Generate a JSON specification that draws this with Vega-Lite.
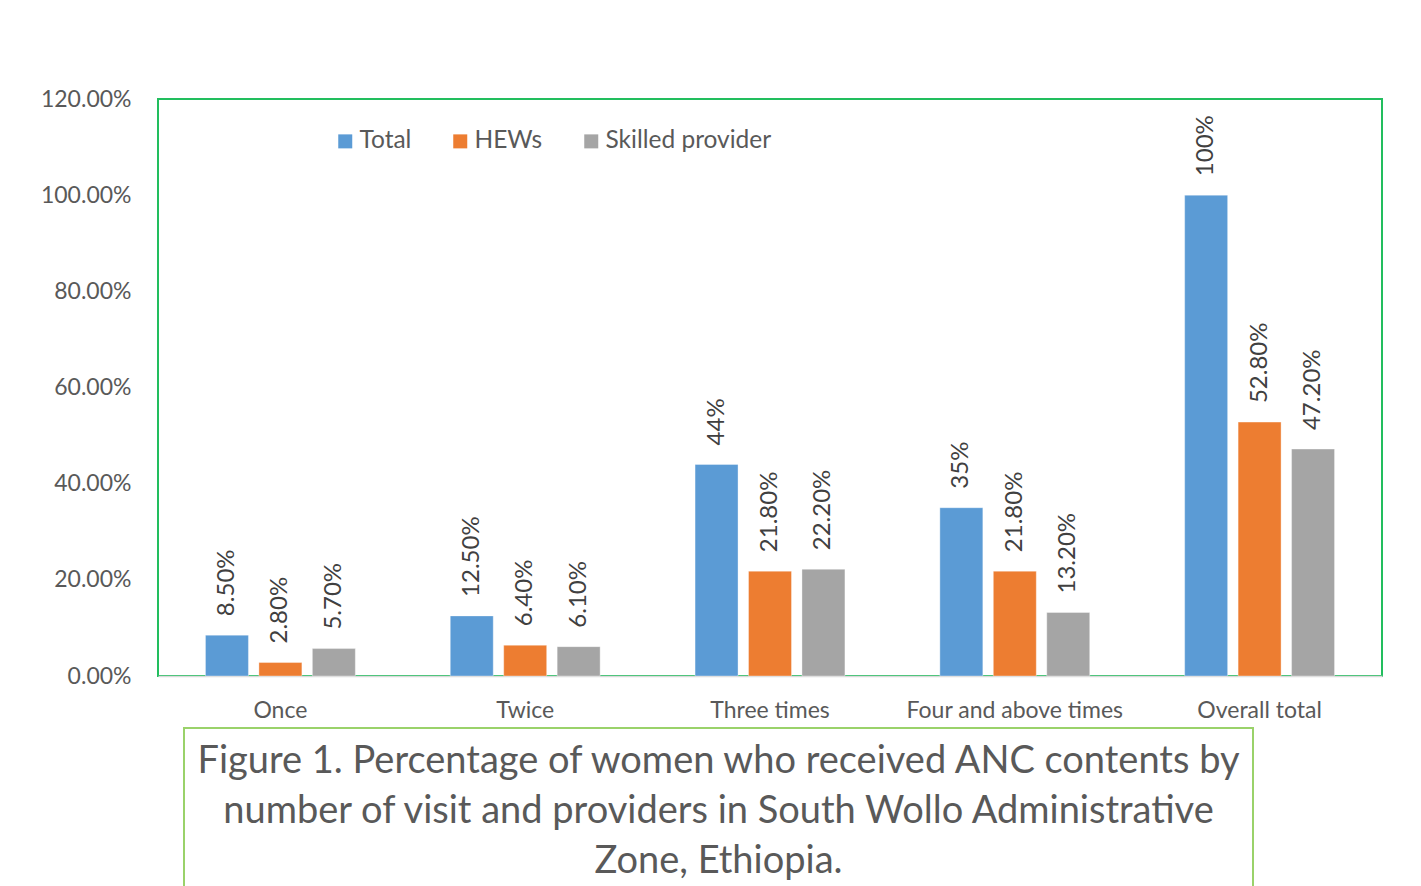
{
  "$schema": "https://vega.github.io/schema/vega-lite/v6.json",
  "background": "white",
  "padding": {"left": 38, "top": 87, "right": 0, "bottom": 0},
  "spacing": 4,
  "config": {
    "font": "Lato",
    "view": {"stroke": null},
    "axis": {"labelFont": "Lato", "labelColor": "#595959", "titleFont": "Lato"},
    "legend": {"labelFont": "Lato"}
  },
  "vconcat": [
    {
      "width": 1224,
      "height": 577,
      "view": {"stroke": "#22BE5E", "strokeWidth": 2},
      "data": {
        "values": [
          {"visit": "Once", "provider": "Total", "value": 0.085, "label": "8.50%"},
          {"visit": "Once", "provider": "HEWs", "value": 0.028, "label": "2.80%"},
          {"visit": "Once", "provider": "Skilled provider", "value": 0.057, "label": "5.70%"},
          {"visit": "Twice", "provider": "Total", "value": 0.125, "label": "12.50%"},
          {"visit": "Twice", "provider": "HEWs", "value": 0.064, "label": "6.40%"},
          {"visit": "Twice", "provider": "Skilled provider", "value": 0.061, "label": "6.10%"},
          {"visit": "Three times", "provider": "Total", "value": 0.44, "label": "44%"},
          {"visit": "Three times", "provider": "HEWs", "value": 0.218, "label": "21.80%"},
          {"visit": "Three times", "provider": "Skilled provider", "value": 0.222, "label": "22.20%"},
          {"visit": "Four and above times", "provider": "Total", "value": 0.35, "label": "35%"},
          {"visit": "Four and above times", "provider": "HEWs", "value": 0.218, "label": "21.80%"},
          {"visit": "Four and above times", "provider": "Skilled provider", "value": 0.132, "label": "13.20%"},
          {"visit": "Overall total", "provider": "Total", "value": 1.0, "label": "100%"},
          {"visit": "Overall total", "provider": "HEWs", "value": 0.528, "label": "52.80%"},
          {"visit": "Overall total", "provider": "Skilled provider", "value": 0.472, "label": "47.20%"}
        ]
      },
      "encoding": {
        "x": {
          "field": "visit", "type": "nominal", "sort": null,
          "scale": {"paddingInner": 0, "paddingOuter": 0},
          "axis": {
            "title": null, "labelAngle": 0, "ticks": false, "labelPadding": 23,
            "labelFontSize": 23, "labelLimit": 0, "domainColor": "#D9D9D9", "domainWidth": 1.5,
            "minExtent": 45, "maxExtent": 45
          }
        },
        "xOffset": {
          "field": "provider", "type": "nominal",
          "sort": ["Total", "HEWs", "Skilled provider"],
          "scale": {"paddingInner": 0.196, "paddingOuter": 0.888}
        },
        "y": {
          "field": "value", "type": "quantitative",
          "scale": {"domain": [0, 1.2]},
          "axis": {
            "title": null, "format": ".2%", "values": [0, 0.2, 0.4, 0.6, 0.8, 1.0, 1.2],
            "grid": false, "domain": false, "ticks": false, "labelPadding": 27,
            "labelFontSize": 23, "minExtent": 119, "maxExtent": 119
          }
        }
      },
      "layer": [
        {
          "mark": {"type": "bar", "stroke": "#FFFFFF", "strokeWidth": 0.6, "strokeOpacity": 0.6},
          "encoding": {
            "color": {
              "field": "provider", "type": "nominal",
              "sort": ["Total", "HEWs", "Skilled provider"],
              "scale": {"domain": ["Total", "HEWs", "Skilled provider"], "range": ["#5B9BD5", "#ED7D31", "#A5A5A5"]},
              "legend": {
                "title": null, "orient": "none", "legendX": 175, "legendY": 30,
                "direction": "horizontal", "symbolType": "square", "symbolSize": 196,
                "symbolStrokeWidth": 0, "labelFontSize": 24.5, "labelColor": "#595959",
                "labelLimit": 0, "columnPadding": 36, "labelOffset": 2
              }
            }
          }
        },
        {
          "mark": {"type": "text", "angle": 270, "align": "left", "baseline": "middle", "dx": 19, "fontSize": 24, "color": "#404040"},
          "encoding": {"text": {"field": "label"}}
        }
      ]
    },
    {
      "spacing": 0,
      "hconcat": [
        {
          "width": 25,
          "height": 168,
          "view": {"stroke": null},
          "data": {"values": [{"t": ""}]},
          "mark": {"type": "text"},
          "encoding": {"text": {"field": "t"}}
        },
        {
          "width": 1069,
          "height": 168,
          "view": {"stroke": "#9AD26A", "strokeWidth": 2},
          "data": {
            "values": [
              {"line": 1, "text": "Figure 1. Percentage of women who received ANC contents by"},
              {"line": 2, "text": "number of  visit and  providers in South Wollo Administrative"},
              {"line": 3, "text": "Zone, Ethiopia."}
            ]
          },
          "mark": {"type": "text", "fontSize": 38, "color": "#595959", "baseline": "middle", "align": "center"},
          "encoding": {
            "y": {
              "field": "line", "type": "ordinal",
              "scale": {"padding": 0.68},
              "axis": null
            },
            "text": {"field": "text"}
          }
        }
      ]
    }
  ]
}
